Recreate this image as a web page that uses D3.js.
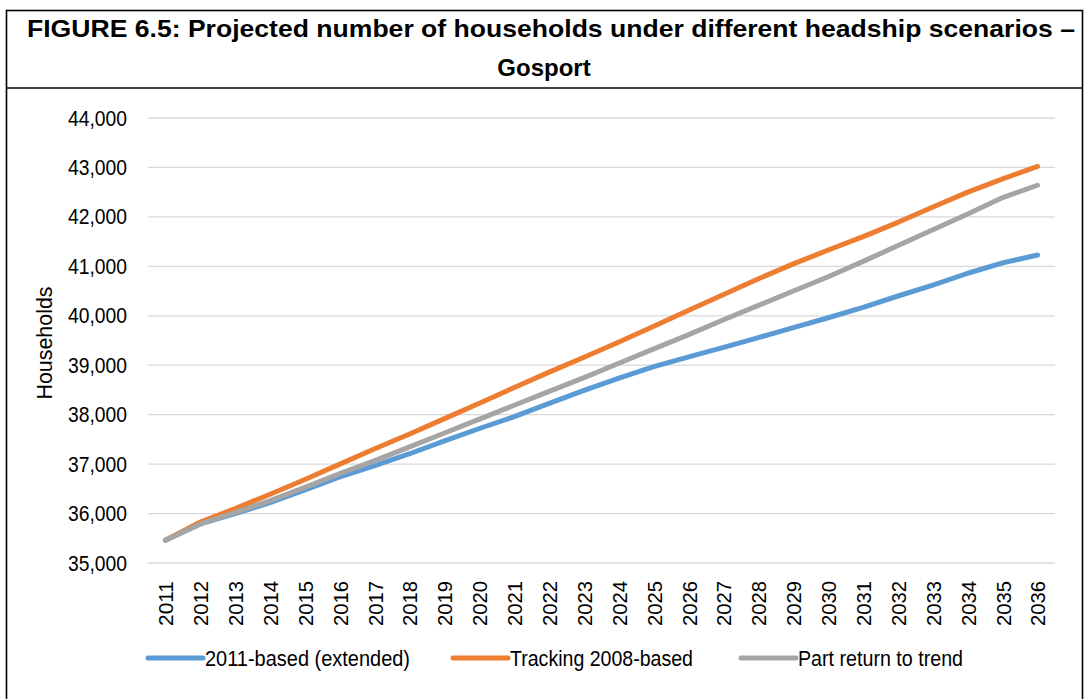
<!DOCTYPE html>
<html>
<head>
<meta charset="utf-8">
<script src="https://cdn.jsdelivr.net/npm/d3@7/dist/d3.min.js"></script>
<style>
  html, body { margin: 0; padding: 0; background: #fff; }
  svg { display: block; font-family: "Liberation Sans", Arial, Helvetica, sans-serif; }
</style>
</head>
<body>
<svg id="chart" width="1087" height="699"></svg>
<script>
// Projection years
const years = ["2011","2012","2013","2014","2015","2016","2017","2018","2019","2020",
  "2021","2022","2023","2024","2025","2026","2027","2028","2029","2030",
  "2031","2032","2033","2034","2035","2036"];

// Households under each headship scenario
const based2011Extended = [35460,35790,36000,36220,36480,36740,36970,37210,37470,37720,
  37960,38230,38490,38740,38970,39170,39360,39560,39760,39960,
  40170,40400,40620,40860,41070,41230];
const tracking2008 = [35460,35830,36100,36390,36690,37000,37310,37610,37920,38230,
  38550,38860,39160,39470,39790,40110,40430,40750,41050,41330,
  41600,41890,42200,42500,42770,43020];
const partReturn = [35460,35790,36020,36260,36530,36810,37070,37350,37630,37910,
  38190,38470,38750,39040,39330,39620,39920,40210,40500,40790,
  41100,41420,41740,42060,42390,42640];

const seriesNames = ["2011-based (extended)", "Tracking 2008-based", "Part return to trend"];
const seriesColors = ["#5B9BD5", "#ED7D31", "#A5A5A5"];
const yTicks = [35000,36000,37000,38000,39000,40000,41000,42000,43000,44000];

const titleLines = ["FIGURE 6.5: Projected number of households under different headship scenarios \u2013", "Gosport"];

const series = [
  { name: seriesNames[0], color: seriesColors[0], values: based2011Extended },
  { name: seriesNames[1], color: seriesColors[1], values: tracking2008 },
  { name: seriesNames[2], color: seriesColors[2], values: partReturn }
];

const svg = d3.select("#chart");

// Frame: title box above the chart box
svg.append("rect")
  .attr("x", 6.5).attr("y", 10.5).attr("width", 1076).attr("height", 720)
  .attr("fill", "none").attr("stroke", "#000").attr("stroke-width", 1.6);
svg.append("line")
  .attr("x1", 6.5).attr("x2", 1082.5).attr("y1", 88).attr("y2", 88)
  .attr("stroke", "#000").attr("stroke-width", 1.6);

// Title
svg.append("text")
  .attr("x", 27).attr("y", 36.5)
  .attr("font-size", 24).attr("font-weight", "bold")
  .attr("textLength", 1048).attr("lengthAdjust", "spacingAndGlyphs")
  .text(titleLines[0]);
svg.append("text")
  .attr("x", 544).attr("y", 75.5)
  .attr("text-anchor", "middle")
  .attr("font-size", 24).attr("font-weight", "bold")
  .text(titleLines[1]);

// Plot area bounds
const plotLeft = 148, plotRight = 1055, plotTop = 118, plotBottom = 563;
const x = d3.scalePoint().domain(years).range([plotLeft, plotRight]).padding(0.5);
const y = d3.scaleLinear().domain([35000, 44000]).range([plotBottom, plotTop]);

// Gridlines
svg.append("g")
  .selectAll("line")
  .data(yTicks)
  .join("line")
  .attr("x1", plotLeft).attr("x2", plotRight)
  .attr("y1", d => y(d)).attr("y2", d => y(d))
  .attr("stroke", "#D9D9D9").attr("stroke-width", 1.3);

// Y axis labels (narrow, tall figures)
const yAxis = svg.append("g")
  .attr("transform", `translate(${plotLeft},0)`)
  .call(d3.axisLeft(y).tickValues(yTicks).tickFormat(d3.format(",")).tickSize(0).tickPadding(21));
yAxis.select(".domain").remove();
yAxis.selectAll("text")
  .attr("font-size", 22).attr("fill", "#000")
  .attr("font-family", "'Liberation Sans', Arial, sans-serif")
  .attr("textLength", 59).attr("lengthAdjust", "spacingAndGlyphs");

// X axis labels (rotated years)
const xAxis = svg.append("g")
  .attr("transform", `translate(0,${plotBottom})`)
  .call(d3.axisBottom(x).tickSize(0).tickPadding(0));
xAxis.select(".domain").remove();
xAxis.selectAll("text")
  .attr("font-size", 21).attr("fill", "#000")
  .attr("font-family", "'Liberation Sans', Arial, sans-serif")
  .attr("text-anchor", "end")
  .attr("dy", "0.35em")
  .attr("transform", "translate(0,18) rotate(-90)")
  .attr("x", 0).attr("y", 0)
  .attr("textLength", 45).attr("lengthAdjust", "spacingAndGlyphs");

// Y axis title
svg.append("text")
  .attr("transform", "translate(52,343) rotate(-90)")
  .attr("text-anchor", "middle")
  .attr("font-size", 22)
  .attr("textLength", 113).attr("lengthAdjust", "spacingAndGlyphs")
  .text("Households");

// Series lines
const line = d3.line()
  .x((d, i) => x(years[i]))
  .y(d => y(d));

svg.append("g")
  .selectAll("path")
  .data(series)
  .join("path")
  .attr("d", d => line(d.values))
  .attr("fill", "none")
  .attr("stroke", d => d.color)
  .attr("stroke-width", 5)
  .attr("stroke-linecap", "round")
  .attr("stroke-linejoin", "round");

// Legend
const legendX = [148, 453, 741];
const legendTextWidth = [205, 183, 165];
const legend = svg.append("g")
  .selectAll("g")
  .data(series)
  .join("g")
  .attr("transform", (d, i) => `translate(${legendX[i]},658)`);
legend.append("line")
  .attr("x1", 0).attr("x2", 55).attr("y1", 0).attr("y2", 0)
  .attr("stroke", d => d.color).attr("stroke-width", 5)
  .attr("stroke-linecap", "round");
legend.append("text")
  .attr("x", 57).attr("y", 0).attr("dy", "0.35em")
  .attr("font-size", 22)
  .attr("textLength", (d, i) => legendTextWidth[i]).attr("lengthAdjust", "spacingAndGlyphs")
  .text(d => d.name);
</script>
</body>
</html>
